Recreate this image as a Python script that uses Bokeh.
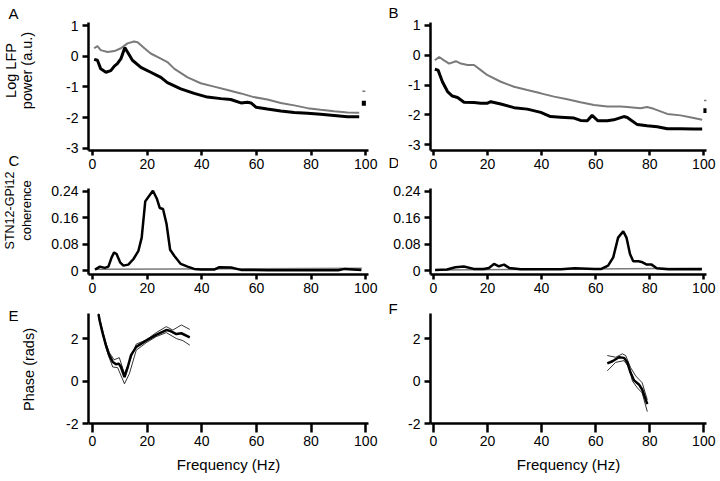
from math import pi
from bokeh.plotting import figure
from bokeh.layouts import row, column
from bokeh.models import Range1d, FixedTicker, Label
from bokeh.embed import file_html
from bokeh.resources import INLINE

FONT = "Liberation Sans"
GRAY = "#7a7a7a"

# ---------------- data ----------------
freq_ticks = [0, 20, 40, 60, 80, 100]
freq_tick_labels = ["0", "20", "40", "60", "80", "100"]
power_ticks = [-3, -2, -1, 0, 1]
power_tick_labels = ["-3", "-2", "-1", "0", "1"]
coh_ticks = [0, 0.08, 0.16, 0.24]
coh_tick_labels = ["0", "0.08", "0.16", "0.24"]
phase_ticks = [-2, 0, 2]
phase_tick_labels = ["-2", "0", "2"]

# Panel A (log LFP power)
A_f_gray = [0.6, 1.8, 3, 5.5, 8, 10.4, 12.8, 15.2, 16.5, 19, 21.3, 25, 27.4, 30, 34.8, 39.6,
            44.5, 49.4, 54.3, 59, 64, 68.9, 73.8, 78.7, 83.5, 88.4, 93.3, 97.6]
A_gray = [0.26, 0.33, 0.2, 0.14, 0.17, 0.26, 0.42, 0.48, 0.46, 0.26, 0.09, -0.08, -0.19, -0.41,
          -0.69, -0.88, -0.99, -1.1, -1.21, -1.33, -1.41, -1.52, -1.6, -1.69, -1.74, -1.79, -1.83, -1.84]
A_f_black = [0.6, 1.8, 3, 4.9, 6.7, 8, 9.1, 10.4, 11.8, 12.8, 14.6, 17.7, 21.3, 25, 27.4, 32.3,
             37.2, 42, 47, 50.6, 54.3, 56.7, 58, 59.8, 64, 68.9, 73.8, 78.7, 83.5, 88.4, 93.3, 97.6]
A_black = [-0.1, -0.13, -0.41, -0.52, -0.47, -0.32, -0.24, -0.08, 0.28, 0.14, -0.13, -0.36, -0.52,
           -0.69, -0.86, -1.06, -1.21, -1.33, -1.38, -1.41, -1.52, -1.5, -1.52, -1.66, -1.72, -1.78,
           -1.83, -1.86, -1.89, -1.93, -1.97, -1.97]
A_mark_f = [99.3]
A_mark_gray = [-1.14]
A_mark_black = [-1.53]

# Panel B
B_f_gray = [0.5, 2.1, 3.9, 5.8, 8.3, 10.1, 12.6, 15, 17.5, 20, 24.9, 29.8, 34.7, 39.7, 44.6, 49.5,
            54.4, 59.4, 64.3, 69.2, 71.7, 76.6, 79, 81.5, 86.5, 91.4, 96.3, 99.4]
B_gray = [-0.17, -0.06, -0.17, -0.28, -0.2, -0.28, -0.33, -0.33, -0.5, -0.67, -0.89, -1.06, -1.17,
          -1.28, -1.39, -1.48, -1.58, -1.67, -1.72, -1.72, -1.74, -1.78, -1.74, -1.8, -1.97, -2.02,
          -2.11, -2.17]
B_f_black = [0.5, 1.7, 3.3, 5.2, 7, 8.9, 11.3, 15, 17.5, 20, 21.2, 24.9, 29.8, 34.7, 39.7, 43.3, 47,
             52, 54.4, 56.9, 58.7, 60.8, 64.3, 66.7, 70.4, 71.7, 75.4, 79, 82.8, 86.5, 91.4, 96.3, 99.4]
B_black = [-0.47, -0.5, -0.89, -1.22, -1.37, -1.42, -1.58, -1.59, -1.61, -1.61, -1.56, -1.64, -1.76,
           -1.81, -1.92, -2.06, -2.08, -2.11, -2.19, -2.2, -2.02, -2.2, -2.2, -2.17, -2.06, -2.09,
           -2.33, -2.37, -2.4, -2.47, -2.47, -2.48, -2.48]
B_mark_f = [100.6]
B_mark_gray = [-1.52]
B_mark_black = [-1.86]

# Panel C (coherence)
C_f = [0.9, 2.7, 4.5, 5.8, 7, 7.9, 8.8, 10.1, 11.3, 13.1, 15, 16.8, 18, 19.3, 20.5, 22.1, 23.6,
       24.6, 25.8, 27.1, 28.4, 29.9, 32.3, 34.8, 37.2, 39.6, 44.5, 46.4, 50.7, 54.3, 59, 64, 76.3,
       89.9, 92.3, 98.4]
C_coh = [0.003, 0.012, 0.008, 0.012, 0.04, 0.055, 0.05, 0.025, 0.015, 0.018, 0.035, 0.06, 0.1,
         0.21, 0.224, 0.242, 0.217, 0.19, 0.187, 0.141, 0.063, 0.045, 0.02, 0.012, 0.005, 0.003,
         0.003, 0.01, 0.009, 0.002, 0.002, 0.001, 0.001, 0.001, 0.005, 0.002]
C_sig_f = [1, 98.5]
C_sig = [0.004, 0.007]

# Panel D
D_f = [0.6, 5, 8.1, 11.2, 14.9, 18.6, 20.5, 22.4, 24.2, 26.1, 28, 32.3, 39.8, 47.2, 52.2, 59.6,
       62.1, 64.6, 66.5, 68.3, 70.2, 71.4, 72.7, 73.9, 75.8, 77, 78.9, 80.7, 82.6, 86.9, 99.3]
D_coh = [0.002, 0.003, 0.01, 0.012, 0.005, 0.005, 0.008, 0.02, 0.013, 0.018, 0.008, 0.004, 0.004,
         0.004, 0.007, 0.005, 0.005, 0.015, 0.04, 0.1, 0.119, 0.1, 0.05, 0.028, 0.028, 0.026, 0.018,
         0.018, 0.007, 0.004, 0.004]
D_sig_f = [0.6, 99.3]
D_sig = [0.002, 0.007]

# Panel E (phase)
E_f = [2.2, 2.6, 3.7, 4.9, 6.1, 7.4, 8.6, 9.6, 10.4, 11.7, 12.9, 14.1, 16.0, 19.6, 23.3, 27.0,
       28.2, 30.7, 32.5, 35.6]
E_phase = [3.15, 2.85, 2.25, 1.69, 1.22, 0.9, 0.79, 0.82, 0.66, 0.19, 0.66, 1.22, 1.61, 1.9, 2.17,
           2.4, 2.37, 2.21, 2.25, 2.06]
E_f_up = [2.2, 2.6, 4.9, 6.1, 7.9, 9.8, 11.7, 13.5, 16.0, 19.6, 23.3, 27.0, 29.4, 32.5, 35.6]
E_up = [3.2, 2.95, 1.8, 1.35, 1.0, 1.1, 0.35, 0.9, 1.74, 1.93, 2.28, 2.56, 2.4, 2.64, 2.43]
E_f_lo = [2.2, 2.6, 4.9, 6.1, 7.4, 9.2, 11.7, 13.5, 16.0, 19.6, 23.3, 27.0, 30.7, 33.1, 35.6]
E_lo = [3.1, 2.8, 1.58, 1.1, 0.66, 0.63, -0.13, 0.35, 1.45, 1.8, 2.09, 2.28, 2.0, 1.9, 1.69]

# Panel F
F_f = [64.3, 66.2, 68.6, 70.5, 71.7, 72.9, 74.2, 76.0, 77.2, 79.1]
F_phase = [0.83, 0.93, 1.12, 1.09, 0.88, 0.4, 0.03, -0.16, -0.4, -1.09]
F_f_up = [64.3, 67.4, 69.9, 71.1, 72.9, 74.8, 77.2, 79.1]
F_up = [1.2, 1.12, 1.28, 1.2, 0.64, 0.24, -0.08, -0.88]
F_f_lo = [64.3, 67.4, 70.5, 72.3, 73.6, 75.4, 77.2, 79.1]
F_lo = [0.48, 0.88, 0.96, 0.64, 0.0, -0.32, -0.56, -1.44]


# ---------------- helpers ----------------
def panel(width, height, xr, yr, yticks, ylabels, borders, xtick_out=5, xlabel=None):
    l, r, t, b = borders
    p = figure(width=width, height=height, x_range=Range1d(*xr), y_range=Range1d(*yr),
               output_backend="svg", toolbar_location=None,
               min_border_left=l, min_border_right=r, min_border_top=t, min_border_bottom=b)
    p.grid.visible = False
    p.outline_line_color = None
    p.background_fill_color = "white"
    p.border_fill_color = "white"
    p.xaxis.ticker = FixedTicker(ticks=freq_ticks)
    p.xaxis.major_label_overrides = dict(zip(freq_ticks, freq_tick_labels))
    p.yaxis.ticker = FixedTicker(ticks=yticks)
    p.yaxis.major_label_overrides = dict(zip(yticks, ylabels))
    for ax in (p.xaxis[0], p.yaxis[0]):
        ax.axis_line_width = 2.5
        ax.axis_line_color = "black"
        ax.major_tick_line_width = 2.5
        ax.major_tick_line_color = "black"
        ax.major_tick_in = 0
        ax.minor_tick_line_color = None
        ax.major_label_text_font = FONT
        ax.major_label_text_font_size = "14px"
        ax.major_label_text_color = "black"
    p.xaxis.major_tick_out = xtick_out
    p.yaxis.major_tick_out = 6
    p.xaxis.major_label_standoff = 3
    p.yaxis.major_label_standoff = 4
    if xlabel:
        p.xaxis.axis_label = xlabel
        p.xaxis.axis_label_text_font = FONT
        p.xaxis.axis_label_text_font_size = "15px"
        p.xaxis.axis_label_text_font_style = "normal"
        p.xaxis.axis_label_text_color = "black"
        p.xaxis.axis_label_standoff = 7
    return p


def strip(width, height):
    s = figure(width=width, height=height, x_range=Range1d(0, width), y_range=Range1d(height, 0),
               output_backend="svg", toolbar_location=None, min_border=0,
               x_axis_type=None, y_axis_type=None)
    s.grid.visible = False
    s.outline_line_color = None
    return s


def letter(s, text, x, y):
    s.add_layout(Label(x=x, y=y, text=text, text_font=FONT, text_font_size="15px",
                       text_align="left", text_baseline="middle", text_color="black"))


def side_text(s, text, x, y, size="14.5px"):
    s.add_layout(Label(x=x, y=y, text=text, angle=pi / 2, text_font=FONT,
                       text_font_size=size, text_align="center",
                       text_baseline="middle", text_color="black"))


# geometry (page has no margin: canvas pixels == picture pixels)
H1, H2, H3 = 176, 124, 178
LW = 337                 # left panels (x 48..385)
SW = 13                  # right letter strips (x 385..398)
RW = 322                 # right panels with strip (x 398..720)
DW = SW + RW             # panel D without strip (x 385..720)
LXR = (-1.47, 101)
RXR = (-1.1, 101)

# Row 1
pA = panel(LW, H1, LXR, (-3.07, 1.1), power_ticks, power_tick_labels, (40, 17, 22, 26))
pA.line(A_f_gray, A_gray, line_color=GRAY, line_width=2)
pA.line(A_f_black, A_black, line_color="black", line_width=3)
pA.rect(A_mark_f, A_mark_gray, width=1.1, height=0.05, fill_color=GRAY, line_color=None)
pA.rect(A_mark_f, A_mark_black, width=1.5, height=0.16, fill_color="black", line_color=None)

pB = panel(RW, H1, RXR, (-3.2, 1.1), power_ticks, power_tick_labels, (32, 14, 22, 26))
pB.line(B_f_gray, B_gray, line_color=GRAY, line_width=2)
pB.line(B_f_black, B_black, line_color="black", line_width=3)
pB.rect(B_mark_f, B_mark_gray, width=1.1, height=0.05, fill_color=GRAY, line_color=None)
pB.rect(B_mark_f, B_mark_black, width=1.5, height=0.16, fill_color="black", line_color=None)

sB = strip(SW, H1)
letter(sB, "B", 3, 12)
letter(sB, "D", 3, 162)

# Row 2
pC = panel(LW, H2, LXR, (-0.012, 0.249), coh_ticks, coh_tick_labels, (40, 17, 12, 26))
pC.line(C_sig_f, C_sig, line_color=GRAY, line_width=1.5)
pC.line(C_f, C_coh, line_color="black", line_width=2.5)

pD = panel(DW, H2, RXR, (-0.012, 0.249), coh_ticks, coh_tick_labels, (45, 14, 12, 26))
pD.line(D_sig_f, D_sig, line_color=GRAY, line_width=1.5)
pD.line(D_f, D_coh, line_color="black", line_width=2.5)

# Row 3
pE = panel(LW, H3, LXR, (-2, 3.18), phase_ticks, phase_tick_labels, (40, 17, 13, 55),
           xtick_out=9, xlabel="Frequency (Hz)")
pE.line(E_f_up, E_up, line_color="black", line_width=0.8)
pE.line(E_f_lo, E_lo, line_color="black", line_width=0.8)
pE.line(E_f, E_phase, line_color="black", line_width=2.5)

pF = panel(RW, H3, RXR, (-2, 3.18), phase_ticks, phase_tick_labels, (32, 14, 13, 55),
           xtick_out=9, xlabel="Frequency (Hz)")
pF.line(F_f_up, F_up, line_color="black", line_width=0.8)
pF.line(F_f_lo, F_lo, line_color="black", line_width=0.8)
pF.line(F_f, F_phase, line_color="black", line_width=2.5)

sF = strip(SW, H3)
letter(sF, "F", 3, 8)

# Left strip: panel letters A, C, E and y-axis titles
pL = strip(48, H1 + H2 + H3)
letter(pL, "A", 8, 13)
letter(pL, "C", 8, 160)
letter(pL, "E", 8, 315)
side_text(pL, "Log LFP", 10, 70)
side_text(pL, "power (a.u.)", 26, 70)
side_text(pL, "STN12-GPi12", 9, 210, size="12.5px")
side_text(pL, "coherence", 26, 210, size="13px")
side_text(pL, "Phase (rads)", 28, 369)

# strips are wrapped in a column so they are not frame-aligned with the panels
layout = row(pL, column(row(pA, column(sB), pB), row(pC, pD), row(pE, column(sF), pF)))

open("out.html", "w").write(file_html(layout, INLINE))
